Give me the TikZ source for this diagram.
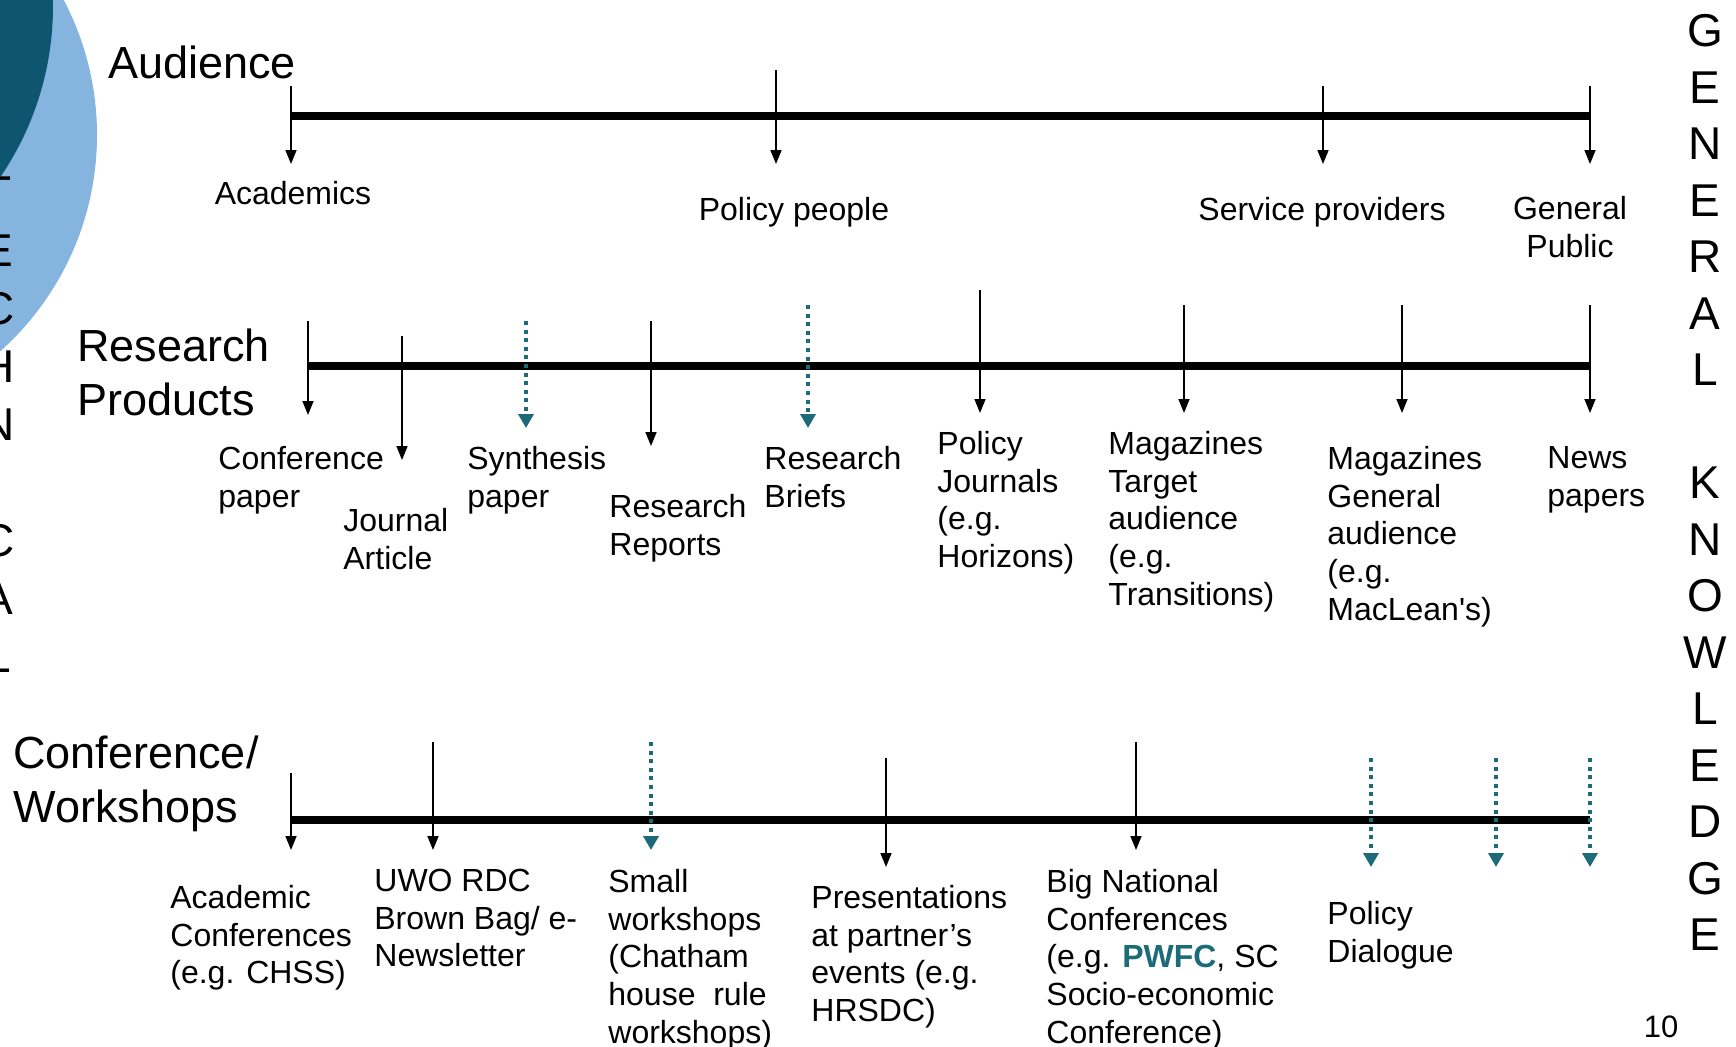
\documentclass[tikz,border=0pt]{standalone}
\usepackage{fontspec}
\setmainfont{Liberation Sans}
\usepackage{tikz}
\usetikzlibrary{positioning}
\usetikzlibrary{arrows.meta}
\definecolor{darkcirc}{RGB}{14,86,112}
\definecolor{lightcirc}{RGB}{133,180,222}
\definecolor{tealdot}{RGB}{27,107,120}
\tikzset{
    timeline/.style={line width=3.6pt},
    tickarrow/.style={-{Triangle[length=7pt,width=5.5pt]},line width=0.8pt},
    dotarrow/.style={-{Triangle[length=7pt,width=7.5pt]},line width=2pt,tealdot,
            dash pattern=on 2pt off 2.3pt},
    headtext/.style={font=\fontsize{22.5}{27}\selectfont,align=left,anchor=north west,inner sep=0pt},
    itemtext/.style={font=\fontsize{16}{18.8}\selectfont,align=left,anchor=north west,inner sep=0pt},
    audtext/.style={font=\fontsize{16}{18.8}\selectfont,align=center,inner sep=0pt},
    sidetext/.style={font=\fontsize{23}{28.25}\selectfont,align=center,anchor=north,inner sep=0pt}
}

\begin{document}
\begin{tikzpicture}[x=0.5pt,y=-0.5pt]
        \useasboundingbox (0,0) rectangle (1736,1046);
        \fill [lightcirc] (-193,135) circle [radius=145pt];
        \fill [darkcirc] (-251,6) circle [radius=152pt];

        \node (tech) [sidetext,font=\fontsize{23}{29}\selectfont] at (-2,176) {T\\E\\C\\H\\N\\I\\C\\A\\L};
        \node (gen) [sidetext] at (1705,14) {G\\E\\N\\E\\R\\A\\L\\\mbox{}\\K\\N\\O\\W\\L\\E\\D\\G\\E};
        \node (page) [audtext,font=\fontsize{15.5}{18}\selectfont] at (1661,1027) {10};

        % audience
        \node (aud) [headtext] at (108,45) {Audience};
        \coordinate (AL) at (291,116);
        \coordinate (AR) at (1590,116);
        \draw [timeline] (AL) -- (AR);
        \coordinate (A1) at (291,86);   \coordinate (A1e) at (291,164);
        \coordinate (A2) at (776,70);   \coordinate (A2e) at (776,164);
        \coordinate (A3) at (1323,86);  \coordinate (A3e) at (1323,164);
        \coordinate (A4) at (1590,86);  \coordinate (A4e) at (1590,164);
        \draw [tickarrow] (A1) -- (A1e);
        \draw [tickarrow] (A2) -- (A2e);
        \draw [tickarrow] (A3) -- (A3e);
        \draw [tickarrow] (A4) -- (A4e);
        \node (acad) [audtext] at (293,193) {Academics};
        \node (pol) [audtext] at (794,212) {Policy people};
        \node (serv) [audtext] at (1322,212) {Service providers};
        \node (pub) [audtext] at (1570,227) {General\\Public};

        % research products
        \node (prod) [headtext] at (77,328) {Research\\Products};
        \coordinate (PL) at (308,366);
        \coordinate (PR) at (1590,366);
        \draw [timeline] (PL) -- (PR);
        \coordinate (P1) at (308,321);  \coordinate (P1e) at (308,415);
        \coordinate (P2) at (402,336);  \coordinate (P2e) at (402,460);
        \coordinate (P3) at (526,321);  \coordinate (P3e) at (526,428);
        \coordinate (P4) at (651,321);  \coordinate (P4e) at (651,446);
        \coordinate (P5) at (808,305);  \coordinate (P5e) at (808,428);
        \coordinate (P6) at (980,290);  \coordinate (P6e) at (980,413);
        \coordinate (P7) at (1184,305); \coordinate (P7e) at (1184,413);
        \coordinate (P8) at (1402,305); \coordinate (P8e) at (1402,413);
        \coordinate (P9) at (1590,305); \coordinate (P9e) at (1590,413);
        \draw [tickarrow] (P1) -- (P1e);
        \draw [tickarrow] (P2) -- (P2e);
        \draw [dotarrow] (P3) -- (P3e);
        \draw [tickarrow] (P4) -- (P4e);
        \draw [dotarrow] (P5) -- (P5e);
        \draw [tickarrow] (P6) -- (P6e);
        \draw [tickarrow] (P7) -- (P7e);
        \draw [tickarrow] (P8) -- (P8e);
        \draw [tickarrow] (P9) -- (P9e);
        \node (confp) [itemtext] at (218,446) {Conference\\paper};
        \node (jour) [itemtext] at (343,508) {Journal\\Article};
        \node (synth) [itemtext] at (467,446) {Synthesis\\paper};
        \node (rep) [itemtext] at (609,494) {Research\\Reports};
        \node (brief) [itemtext] at (764,446) {Research\\Briefs};
        \node (poljour) [itemtext] at (937,431) {Policy\\Journals\\(e.g.\\Horizons)};
        \node (magt) [itemtext] at (1108,431) {Magazines\\Target\\audience\\(e.g.\\Transitions)};
        \node (magg) [itemtext] at (1327,446) {Magazines\\General\\audience\\(e.g.\\MacLean\textquotesingle s)};
        \node (news) [itemtext] at (1547,446) {News\\papers};

        % conference / workshops
        \node (work) [headtext] at (13,735) {Conference/\\Workshops};
        \coordinate (WL) at (291,820);
        \coordinate (WR) at (1590,820);
        \draw [timeline] (WL) -- (WR);
        \coordinate (W1) at (291,773);  \coordinate (W1e) at (291,850);
        \coordinate (W2) at (433,742);  \coordinate (W2e) at (433,850);
        \coordinate (W3) at (651,742);  \coordinate (W3e) at (651,850);
        \coordinate (W4) at (886,758);  \coordinate (W4e) at (886,867);
        \coordinate (W5) at (1136,742); \coordinate (W5e) at (1136,850);
        \coordinate (W6) at (1371,758); \coordinate (W6e) at (1371,867);
        \coordinate (W7) at (1496,758); \coordinate (W7e) at (1496,867);
        \coordinate (W8) at (1590,758); \coordinate (W8e) at (1590,867);
        \draw [tickarrow] (W1) -- (W1e);
        \draw [tickarrow] (W2) -- (W2e);
        \draw [dotarrow] (W3) -- (W3e);
        \draw [tickarrow] (W4) -- (W4e);
        \draw [tickarrow] (W5) -- (W5e);
        \draw [dotarrow] (W6) -- (W6e);
        \draw [dotarrow] (W7) -- (W7e);
        \draw [dotarrow] (W8) -- (W8e);
        \node (acconf) [itemtext] at (170,885) {Academic\\Conferences\\(e.g. CHSS)};
        \node (uwo) [itemtext] at (374,869) {UWO RDC\\Brown Bag/ e-\\Newsletter};
        \node (small) [itemtext] at (608,869) {Small\\workshops\\(Chatham\\house\ \ rule\\workshops)};
        \node (pres) [itemtext] at (811,885) {Presentations\\at partner’s\\events (e.g.\\HRSDC)};
        \node (big) [itemtext] at (1046,869) {Big National\\Conferences\\(e.g. {\color{tealdot}\bfseries PWFC}, SC\\Socio-economic\\Conference)};
        \node (dial) [itemtext] at (1327,901) {Policy\\Dialogue};
    \end{tikzpicture}
\end{document}
